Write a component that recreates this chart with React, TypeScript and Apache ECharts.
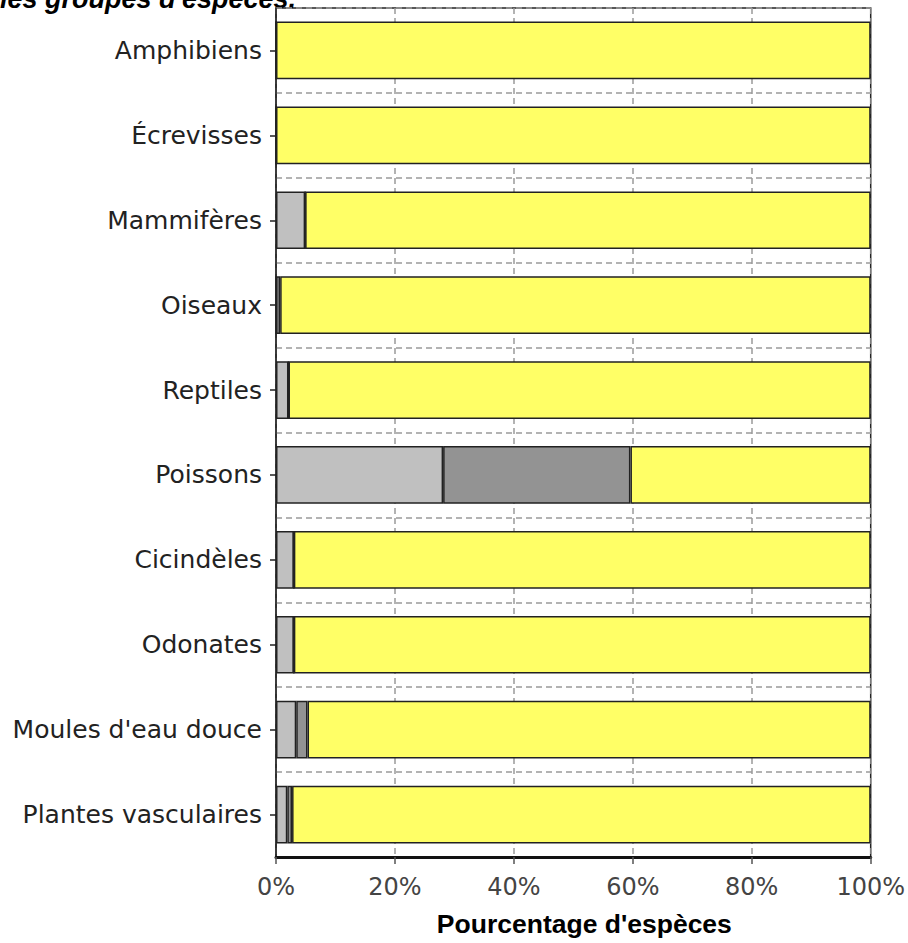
import React, { useEffect, useRef } from "react";
import * as echarts from "echarts";

const categories = [
  "Amphibiens",
  "Écrevisses",
  "Mammifères",
  "Oiseaux",
  "Reptiles",
  "Poissons",
  "Cicindèles",
  "Odonates",
  "Moules d'eau douce",
  "Plantes vasculaires",
];
const seriesLight = [0, 0, 4.9, 0, 2.1, 28.1, 3.0, 3.0, 3.4, 1.9];
const seriesDark = [0, 0, 0, 0.7, 0, 31.5, 0, 0, 1.9, 0.8];
const seriesYellow = [100, 100, 95.1, 99.3, 97.9, 40.4, 97.0, 97.0, 94.7, 97.3];
const xTicks = [0, 20, 40, 60, 80, 100];
const titleText = "les groupes d'espèces.";
const xAxisName = "Pourcentage d'espèces";

export default function App() {
  const ref = useRef<HTMLDivElement>(null);
  useEffect(() => {
    if (!ref.current) return;
    const chart = echarts.init(ref.current, null, { renderer: "svg" });
    const barStyle = (color: string) => ({
      color,
      borderColor: "#222",
      borderWidth: 1.5,
    });
    chart.setOption({
      animation: false,
      backgroundColor: "#fff",
      textStyle: { fontFamily: "Liberation Sans, Arial, sans-serif" },
      graphic: [
        {
          type: "text",
          left: 0,
          top: -15,
          style: {
            text: titleText,
            font: "italic bold 27px 'Liberation Sans', Arial, sans-serif",
            fill: "#000",
          },
        },
      ],
      grid: {
        left: 276,
        right: 37,
        top: 8,
        bottom: 86,
        show: true,
        borderColor: "#222",
        borderWidth: 1.5,
      },
      xAxis: {
        type: "value",
        min: xTicks[0],
        max: xTicks[xTicks.length - 1],
        interval: 20,
        name: xAxisName,
        nameLocation: "middle",
        nameGap: 53,
        nameTextStyle: {
          fontFamily: "Liberation Sans, Arial, sans-serif",
          fontWeight: "bold",
          fontSize: 26.5,
          color: "#000",
          padding: [0, 0, 0, 22],
        },
        axisLine: { show: true, lineStyle: { color: "#111", width: 3 } },
        axisTick: { show: true, length: 7, lineStyle: { color: "#555", width: 1.5 } },
        axisLabel: {
          formatter: "{value}%",
          fontSize: 24,
          color: "#444",
          margin: 18,
          fontFamily: "DejaVu Sans, sans-serif",
        },
        splitLine: {
          show: true,
          lineStyle: { color: "#9a9a9a", type: [6, 4], width: 1.5 },
        },
      },
      yAxis: {
        type: "category",
        data: categories,
        inverse: true,
        axisLine: { show: true, lineStyle: { color: "#222", width: 1.5 } },
        axisTick: { show: true, length: 6, alignWithLabel: true, lineStyle: { color: "#222", width: 1.5 } },
        axisLabel: {
          fontSize: 25,
          color: "#222",
          margin: 14,
          fontFamily: "DejaVu Sans, sans-serif",
        },
        splitLine: {
          show: true,
          lineStyle: { color: "#9a9a9a", type: [6, 4], width: 1.5 },
        },
      },
      series: [
        {
          type: "bar",
          stack: "total",
          data: seriesLight,
          barCategoryGap: "32%",
          itemStyle: barStyle("#C0C0C0"),
        },
        {
          type: "bar",
          stack: "total",
          data: seriesDark,
          itemStyle: barStyle("#939393"),
        },
        {
          type: "bar",
          stack: "total",
          data: seriesYellow,
          itemStyle: barStyle("#FFFF66"),
        },
      ],
    });
    return () => chart.dispose();
  }, []);
  return (
    <div
      ref={ref}
      style={{ position: "absolute", left: 0, top: 0, width: 908, height: 943 }}
    />
  );
}
